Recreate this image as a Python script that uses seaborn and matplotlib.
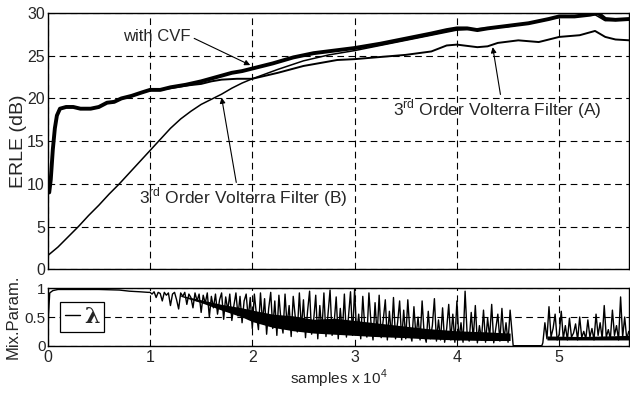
import numpy as np
import pandas as pd
import matplotlib
matplotlib.use("Agg")
import matplotlib.pyplot as plt
import seaborn as sns
from matplotlib import font_manager

# ---------------- data (x in units of 10^4 samples) ----------------
cvf_x = [0.00, 0.015, 0.03, 0.05, 0.07, 0.09, 0.12, 0.18, 0.25, 0.32, 0.42, 0.50, 0.58, 0.65,
         0.72, 0.82, 0.92, 1.00, 1.10, 1.20, 1.35, 1.50, 1.65, 1.80, 1.90, 2.00, 2.20, 2.40,
         2.60, 2.80, 3.00, 3.25, 3.50, 3.75, 3.90, 4.00, 4.10, 4.20, 4.30, 4.50, 4.70, 4.90,
         5.00, 5.15, 5.30, 5.38, 5.45, 5.55, 5.69]
cvf_y = [9.0, 9.0, 10.5, 14.0, 16.5, 18.0, 18.8, 19.0, 19.0, 18.8, 18.8, 19.0, 19.5, 19.6,
         20.0, 20.3, 20.7, 21.0, 21.0, 21.3, 21.6, 22.0, 22.5, 23.0, 23.2, 23.5, 24.1, 24.8,
         25.3, 25.6, 25.9, 26.4, 27.0, 27.6, 28.0, 28.2, 28.2, 28.0, 28.2, 28.5, 28.8, 29.3,
         29.6, 29.6, 29.8, 30.0, 29.3, 29.2, 29.3]

a_x = [0.00, 0.015, 0.03, 0.05, 0.07, 0.09, 0.12, 0.18, 0.25, 0.32, 0.42, 0.50, 0.58, 0.65,
       0.72, 0.82, 0.92, 1.00, 1.10, 1.20, 1.35, 1.50, 1.60, 1.70, 1.85, 2.00, 2.25, 2.50,
       2.83, 3.00, 3.50, 3.75, 3.90, 4.00, 4.20, 4.30, 4.40, 4.60, 4.80, 5.00, 5.20, 5.35,
       5.45, 5.55, 5.69]
a_y = [9.0, 9.0, 10.5, 14.0, 16.5, 18.0, 18.8, 19.0, 19.0, 18.8, 18.8, 19.0, 19.5, 19.6,
       20.0, 20.3, 20.7, 21.0, 21.0, 21.2, 21.5, 21.7, 22.0, 22.2, 22.3, 22.3, 23.0, 23.8,
       24.5, 24.6, 25.1, 25.5, 26.2, 26.3, 26.0, 26.1, 26.5, 26.8, 26.6, 27.2, 27.4, 27.9,
       27.2, 26.9, 26.8]

b_x = [0.00, 0.10, 0.20, 0.30, 0.40, 0.50, 0.60, 0.70, 0.80, 0.90, 1.00, 1.10, 1.20, 1.30,
       1.40, 1.50, 1.60, 1.70, 1.80, 1.90, 2.00, 2.25, 2.50, 2.75, 3.00, 3.50, 4.00, 4.50,
       5.00, 5.35, 5.45, 5.69]
b_y = [1.6, 2.6, 3.8, 5.0, 6.3, 7.5, 8.8, 10.0, 11.3, 12.6, 13.9, 15.2, 16.5, 17.6,
       18.5, 19.3, 19.9, 20.5, 21.2, 21.8, 22.3, 23.4, 24.4, 25.1, 25.6, 26.8, 28.0, 28.4,
       29.5, 29.8, 29.1, 29.2]

# mixing parameter lambda
lam_smooth_x = [0.0, 0.008, 0.02, 0.05, 0.10, 0.30, 0.50, 0.70, 0.80, 0.90, 0.98]
lam_smooth_y = [0.0, 0.55, 0.92, 0.96, 0.98, 0.98, 0.98, 0.97, 0.95, 0.94, 0.93]
lam_noisy_1 = [
    0.93, 0.90, 0.94, 0.84, 0.93, 0.91, 0.78, 0.93, 0.88, 0.92, 0.70, 0.90, 0.93, 0.80, 0.64, 0.92, 0.86, 0.93, 0.72, 0.90, 0.84, 0.66, 0.92, 0.78, 0.90,
    0.58, 0.88, 0.74, 0.92, 0.50, 0.86, 0.66, 0.90, 0.55, 0.80, 0.92, 0.46, 0.85, 0.62, 0.90, 0.44, 0.70, 0.92, 0.52, 0.86, 0.40, 0.78, 0.90, 0.48, 0.84,
    0.30, 0.90, 0.55, 0.28, 0.92, 0.40, 0.82, 0.20, 0.65, 0.93, 0.30, 0.78, 0.18, 0.88, 0.45, 0.22, 0.90, 0.35, 0.70, 0.16, 0.86, 0.50, 0.24, 0.92, 0.30,
    0.80, 0.14, 0.60, 0.95, 0.20, 0.45, 0.88, 0.12, 0.70, 0.25, 0.92, 0.16, 0.55, 0.97, 0.18, 0.40, 0.85, 0.12, 0.65, 0.22, 0.90, 0.15, 0.50, 0.94, 0.18,
    0.98, 0.20, 0.55, 0.12, 0.86, 0.30, 0.15, 0.92, 0.40, 0.10, 0.75, 0.18, 0.88, 0.14, 0.45, 0.80, 0.10, 0.60, 0.16, 0.84, 0.12, 0.40, 0.78, 0.10, 0.62,
    0.12, 0.80, 0.25, 0.08, 0.68, 0.15, 0.50, 0.10, 0.78, 0.20, 0.06, 0.60, 0.12, 0.35, 0.82, 0.08, 0.45, 0.10, 0.66, 0.06, 0.30, 0.72, 0.10, 0.55, 0.06,
    0.78, 0.10, 0.40, 0.06, 0.95, 0.20, 0.08, 0.58, 0.12, 0.70, 0.05, 0.35, 0.10, 0.62, 0.06, 0.48, 0.15, 0.72, 0.05, 0.30, 0.55, 0.08, 0.65, 0.10, 0.40, 0.06, 0.62,
]
lam_gap_x = [4.55, 4.83]
lam_gap_y = [0.0, 0.0]
lam_noisy_2 = [
    0.05, 0.40, 0.12, 0.68, 0.15, 0.30, 0.55, 0.10, 0.20, 0.60, 0.12, 0.35, 0.10, 0.48, 0.15, 0.22, 0.38, 0.10, 0.50, 0.14, 0.25, 0.12,
    0.45, 0.15, 0.30, 0.10, 0.55, 0.18, 0.40, 0.12, 0.70, 0.15, 0.28, 0.12, 0.62, 0.18, 0.35, 0.10, 0.85, 0.15, 0.50, 0.12, 0.25,
]
# dense core of the lambda trace (where the trace is solid black)
band1_x = [1.3, 1.5, 1.7, 1.9, 2.0, 2.2, 2.4, 2.6, 2.8, 3.0, 3.2, 3.5, 3.7, 4.0, 4.3, 4.52]
band1_lo = [0.86, 0.75, 0.62, 0.50, 0.42, 0.32, 0.26, 0.22, 0.20, 0.18, 0.16, 0.14, 0.12, 0.10, 0.09, 0.09]
band1_hi = [0.88, 0.80, 0.72, 0.66, 0.62, 0.55, 0.52, 0.46, 0.48, 0.44, 0.40, 0.34, 0.30, 0.26, 0.24, 0.22]
band2_x = [4.88, 5.2, 5.68]
band2_lo = [0.10, 0.10, 0.10]
band2_hi = [0.17, 0.16, 0.18]

x_ticks = [0, 1, 2, 3, 4, 5]
erle_ticks = [0, 5, 10, 15, 20, 25, 30]
lam_ticks = [0, 0.5, 1]
lam_ticklabels = ["0", "0.5", "1"]

# ---------------- style ----------------
sns.set_style("white")
avail = {f.name for f in font_manager.fontManager.ttflist}
fam = [f for f in ["Liberation Sans Narrow", "Liberation Sans", "DejaVu Sans"] if f in avail]
plt.rcParams["font.family"] = fam
plt.rcParams["mathtext.fontset"] = "custom"
plt.rcParams["mathtext.rm"] = fam[0]

fig = plt.figure(figsize=(6.30, 3.94), dpi=100)
ax1 = fig.add_axes([0.0757, 0.3165, 0.9235, 0.6505])
ax2 = fig.add_axes([0.0757, 0.1226, 0.9235, 0.1456])

df_cvf = pd.DataFrame({"x": cvf_x, "y": cvf_y})
df_a = pd.DataFrame({"x": a_x, "y": a_y})
df_b = pd.DataFrame({"x": b_x, "y": b_y})
sns.lineplot(data=df_b, x="x", y="y", ax=ax1, color="black", linewidth=1.1, estimator=None, sort=False)
sns.lineplot(data=df_a, x="x", y="y", ax=ax1, color="black", linewidth=1.4, estimator=None, sort=False)
sns.lineplot(data=df_cvf, x="x", y="y", ax=ax1, color="black", linewidth=2.8, estimator=None, sort=False)

lam_x = (list(lam_smooth_x)
         + list(np.linspace(1.0, 4.52, len(lam_noisy_1)))
         + lam_gap_x
         + list(np.linspace(4.84, 5.68, len(lam_noisy_2))))
lam_y = list(lam_smooth_y) + lam_noisy_1 + lam_gap_y + lam_noisy_2
df_lam = pd.DataFrame({"x": lam_x, "y": lam_y})
ax2.fill_between(band1_x, band1_lo, band1_hi, color="black", linewidth=0)
ax2.fill_between(band2_x, band2_lo, band2_hi, color="black", linewidth=0)
sns.lineplot(data=df_lam, x="x", y="y", ax=ax2, color="black", linewidth=1.0,
             estimator=None, sort=False, label="\u03bb")

xmax = 5.687
for ax in (ax1, ax2):
    ax.set_xlim(0, xmax)
    ax.set_xticks(x_ticks)
    ax.grid(True, linestyle=(0, (6, 4)), color="black", linewidth=0.8)
    ax.tick_params(direction="in", length=3, labelsize=11.5, color="black", pad=2)
    for s in ax.spines.values():
        s.set_color("black")
        s.set_linewidth(1.0)

ax1.set_ylim(0, 30)
ax1.set_yticks(erle_ticks)
ax1.set_xticklabels([])
ax1.set_xlabel("")
ax1.set_ylabel("ERLE (dB)", fontsize=14)
ax1.yaxis.set_label_coords(-0.036, 0.5)

ax2.set_ylim(0, 1)
ax2.set_yticks(lam_ticks)
ax2.set_yticklabels(lam_ticklabels)
ax2.tick_params(axis="y", labelsize=11, pad=1.5)
ax2.set_xticklabels([str(t) for t in x_ticks])
ax2.grid(True, axis="y", linestyle=(0, (6, 4)), color="black", linewidth=0.8)
ax2.set_ylabel("Mix.Param.", fontsize=12)
ax2.yaxis.set_label_coords(-0.047, 0.5)
ax2.set_xlabel("samples x 10$^4$", fontsize=11, labelpad=2)
ax2.tick_params(axis="x", pad=3)

leg = ax2.legend(loc="center left", bbox_to_anchor=(0.022, 0.5), handlelength=0.7,
                 handletextpad=0.15, borderpad=0.2, borderaxespad=0.0, fancybox=False,
                 framealpha=1, edgecolor="black",
                 prop={"weight": "bold", "size": 16, "family": "DejaVu Serif"})
leg.get_frame().set_linewidth(0.9)

# annotations
arrow = dict(arrowstyle="-|>", color="black", lw=0.8, mutation_scale=8, shrinkA=0, shrinkB=0)
ax1.annotate("with CVF", xy=(1.98, 23.9), xytext=(1.07, 27.3), fontsize=12,
             ha="center", va="center", arrowprops=dict(arrow, relpos=(1.0, 0.45)))
ax1.annotate("3$^{\\mathrm{rd}}$ Order Volterra Filter (B)", xy=(1.70, 20.1), xytext=(1.91, 8.4),
             fontsize=12.5, ha="center", va="center",
             arrowprops=dict(arrow, relpos=(0.47, 1.0)))
ax1.annotate("3$^{\\mathrm{rd}}$ Order Volterra Filter (A)", xy=(4.35, 26.0), xytext=(4.39, 18.7),
             fontsize=12.5, ha="center", va="center",
             arrowprops=dict(arrow, relpos=(0.52, 1.0)))

fig.savefig("out.png", dpi=100)
